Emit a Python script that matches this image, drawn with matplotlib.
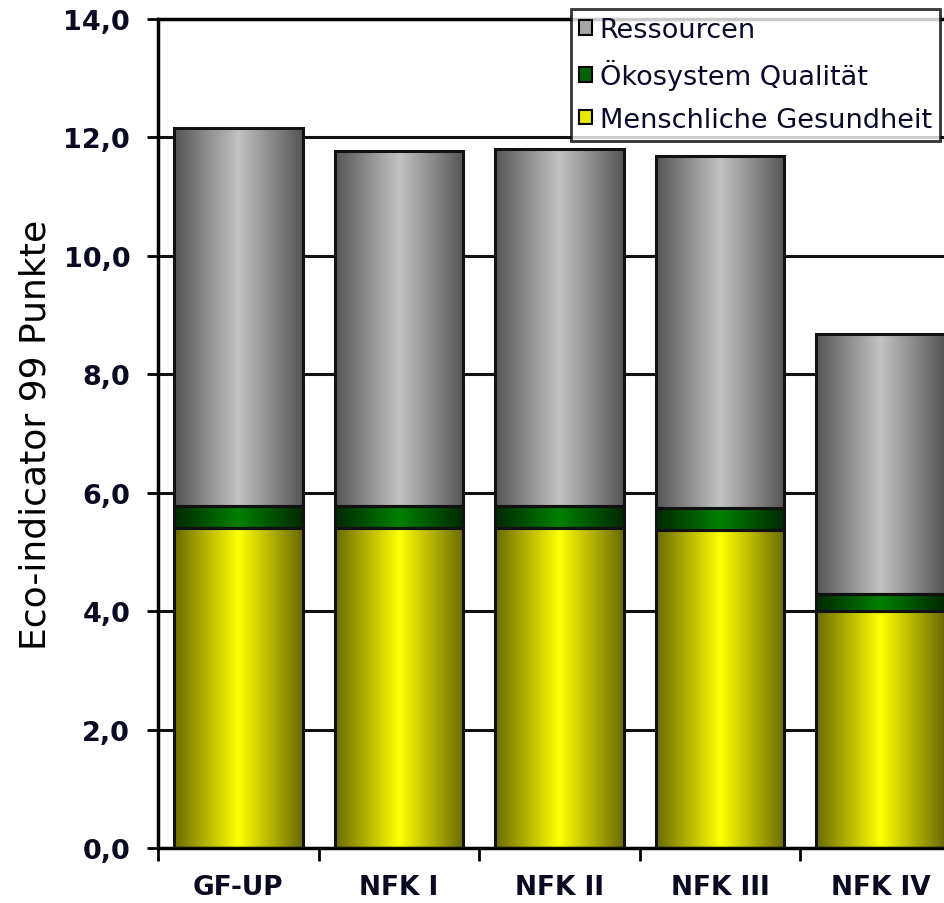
import numpy as np
import matplotlib
matplotlib.use("Agg")
import matplotlib.pyplot as plt
from matplotlib.patches import Patch
from matplotlib.colors import LinearSegmentedColormap

# Eco-indicator 99 results per variant (stacked impact categories)
categories = ["GF-UP", "NFK I", "NFK II", "NFK III", "NFK IV"]
menschliche_gesundheit = [5.41, 5.41, 5.41, 5.37, 4.00]
oekosystem_qualitaet = [0.37, 0.37, 0.37, 0.37, 0.29]
ressourcen = [6.38, 5.99, 6.02, 5.95, 4.39]

y_ticks = [0, 2, 4, 6, 8, 10, 12, 14]
y_tick_labels = ["0,0", "2,0", "4,0", "6,0", "8,0", "10,0", "12,0", "14,0"]

series = [
    ("Menschliche Gesundheit", menschliche_gesundheit, "#6a6a00", "#ffff00", "#e8e800"),
    ("Ökosystem Qualität", oekosystem_qualitaet, "#002800", "#008000", "#006400"),
    ("Ressourcen", ressourcen, "#555555", "#c2c2c2", "#a6a6a6"),
]

plt.rcParams["font.family"] = ["DejaVu Sans"]

fig = plt.figure(figsize=(9.45, 9.04), dpi=100)
ax = fig.add_axes([158 / 945, 55 / 904, 803 / 945, 829 / 904])

x = np.arange(len(categories))
bar_width = 0.8

# horizontal "cylinder" gradient: dark edges, bright centre
u = np.linspace(0, 1, 256)
profile = 1 - np.abs(2 * u - 1)
grad = profile[np.newaxis, :]

bottom = np.zeros(len(categories))
for name, values, edge_c, centre_c, _ in series:
    cmap = LinearSegmentedColormap.from_list(name, [edge_c, centre_c])
    bars = ax.bar(x, values, bar_width, bottom=bottom, facecolor="none",
                  edgecolor="#111111", linewidth=2.2, zorder=3)
    for rect in bars:
        x0, y0 = rect.get_x(), rect.get_y()
        w, h = rect.get_width(), rect.get_height()
        im = ax.imshow(grad, cmap=cmap, vmin=0, vmax=1, aspect="auto",
                       extent=(x0, x0 + w, y0, y0 + h), zorder=2,
                       interpolation="bilinear")
        im.set_clip_path(rect)
    bottom = bottom + np.array(values)

ax.set_xlim(-0.5, len(categories) - 0.5)
ax.set_ylim(0, 14)

# y axis
ax.set_yticks(y_ticks)
ax.set_yticklabels(y_tick_labels, fontsize=19.5, fontweight="bold")
ax.tick_params(axis="y", direction="out", length=8, width=2, pad=12, color="black")
for lbl in ax.get_yticklabels():
    lbl.set_color("#0a0a22")
ax.yaxis.grid(True, color="#111111", linewidth=2.2, zorder=0)
ax.set_axisbelow(True)

# x axis: labels at centres, tick marks between categories
ax.set_xticks(x)
ax.set_xticklabels(categories, fontsize=19, fontweight="bold")
for lbl in ax.get_xticklabels():
    lbl.set_color("#0a0a22")
ax.set_xticks(np.arange(-0.5, len(categories)), minor=True)
ax.tick_params(axis="x", which="major", length=0, pad=19)
ax.tick_params(axis="x", which="minor", length=9, width=2, direction="out", color="black")

for side in ["left", "top", "bottom", "right"]:
    ax.spines[side].set_linewidth(2.5)
    ax.spines[side].set_color("black")

ax.set_ylabel("Eco-indicator 99 Punkte", fontsize=26, labelpad=8, color="black")

# legend
handles = [Patch(facecolor=c, edgecolor="black", linewidth=1.5, label=n)
           for n, _, _, _, c in reversed(series)]
leg = fig.legend(handles=handles, loc="upper right",
                 bbox_to_anchor=(940 / 945, 1 - 10 / 904),
                 bbox_transform=fig.transFigure,
                 fontsize=19.5, frameon=True, fancybox=False, shadow=False,
                 handlelength=0.45, handleheight=0.45, handletextpad=0.3,
                 labelspacing=0.6, borderpad=0.3, borderaxespad=0)
leg.get_frame().set_edgecolor("black")
leg.get_frame().set_linewidth(2)
leg.get_frame().set_facecolor("white")
for t in leg.get_texts():
    t.set_color("#0a0a2a")

fig.savefig("out.png", dpi=100)
